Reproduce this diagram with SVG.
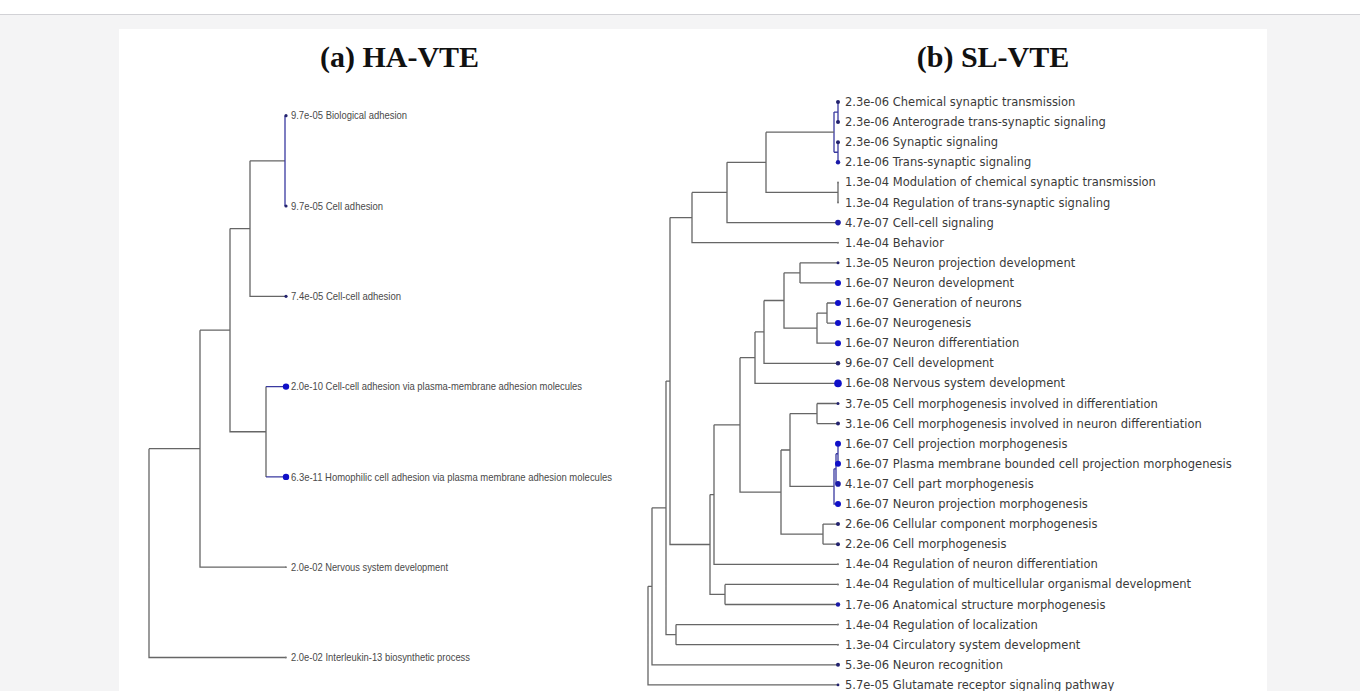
<svg xmlns="http://www.w3.org/2000/svg" width="1360" height="691" viewBox="0 0 1360 691">
<style>
.bg{fill:#f4f4f5}
.panel{fill:#ffffff}
.title{font-family:"Liberation Serif","Times New Roman",serif;font-weight:bold;font-size:30px;fill:#111}
.lt{font-family:"Liberation Sans",Arial,sans-serif;font-size:11px;fill:#4a4a4a}
.rt{font-family:"DejaVu Sans",Verdana,sans-serif;font-size:11.5px;fill:#3a3a3a}
.e{fill:none;stroke:#666;stroke-width:1.3}
.eb{fill:none;stroke:#3a3aa0;stroke-width:1.3}
.d0{fill:#777}
.d1{fill:#22226e}
.d2{fill:#1a1aa8}
.d3{fill:#1010c8}
</style>
<rect class="bg" x="0" y="0" width="1360" height="691"/>
<rect x="0" y="0" width="1360" height="14" fill="#ffffff"/>
<line x1="0" y1="14.5" x2="1360" y2="14.5" stroke="#d2d2d6" stroke-width="1"/>
<rect class="panel" x="119" y="29" width="1148" height="662"/>
<g id="titles">
<text class="title" x="399.5" y="67" text-anchor="middle">(a) HA-VTE</text>
<text class="title" x="993" y="67" text-anchor="middle">(b) SL-VTE</text>
</g>
<g id="connectors">
<!-- left tree -->
<path class="e" d="M250 160.85H285M250 160.85V296.3H286M230 228.6H250M230 228.6V431.75H266M266 386.6V476.9M200 330.2H230M200 330.2V567.2H286M149 448.7H200M149 448.7V657.5H286"/>
<path class="eb" d="M285 115.7V206M266 386.6H286M266 476.9H286"/>
<!-- right tree -->
<path class="eb" d="M838 102V122.1M838 142.2V162.3M834 112.05H838M834 152.25H838M834 112.05V152.25"/>
<path class="e" d="M838 182.4V202.5M766 132.15H834M766 132.15V192.45H838M727 162.3H766M727 162.3V222.6H838M692 192.45H727M692 192.45V242.7H838"/>
<path class="e" d="M800 262.8V282.9M800 262.8H838M800 282.9H838M827 303V323.1M827 303H838M827 323.1H838M817 313.05H827M817 313.05V343.2H838M784 272.85H800M784 272.85V328.1H817M764 300.5H784M764 300.5V363.3H838M755 331.9H764M755 331.9V383.4H838"/>
<path class="e" d="M817 403.5V423.6M817 403.5H838M817 423.6H838M790 413.55H817M790 413.55V486.4H834"/>
<path class="eb" d="M838 443.7V463.8M836 453.75H838M836 453.75V483.9H838M834 468.8H836M834 468.8V504H838"/>
<path class="e" d="M823 524.1V544.2M823 524.1H838M823 544.2H838M781 450H790M781 450V534.15H823M740 357.65H755M740 357.65V492.07H781M714 424.86H740M714 424.86V564.3H838"/>
<path class="e" d="M725 584.4V604.5M725 584.4H838M725 604.5H838M710 494.6H714M710 494.6V594.45H725M670 217.6H692M670 217.6V544.5H710"/>
<path class="e" d="M676 624.6V644.7M676 624.6H838M676 644.7H838M666 381.05H670M666 381.05V634.65H676M652 507.85H666M652 507.85V664.8H838M648 586.3H652M648 586.3V684.9H838"/>
</g>
<g id="left-leaves">
<g id="a-biological-adhesion"><circle class="d1" cx="286" cy="115.7" r="1.6"/><text class="lt" x="291" y="119.4" textLength="116" lengthAdjust="spacingAndGlyphs">9.7e-05 Biological adhesion</text></g>
<g id="a-cell-adhesion"><circle class="d1" cx="286" cy="206" r="1.6"/><text class="lt" x="291" y="209.7" textLength="92" lengthAdjust="spacingAndGlyphs">9.7e-05 Cell adhesion</text></g>
<g id="a-cell-cell-adhesion"><circle class="d1" cx="286" cy="296.3" r="1.6"/><text class="lt" x="291" y="300" textLength="110" lengthAdjust="spacingAndGlyphs">7.4e-05 Cell-cell adhesion</text></g>
<g id="a-cell-cell-adhesion-pm"><circle class="d3" cx="286" cy="386.6" r="3.2"/><text class="lt" x="291" y="390.3" textLength="291" lengthAdjust="spacingAndGlyphs">2.0e-10 Cell-cell adhesion via plasma-membrane adhesion molecules</text></g>
<g id="a-homophilic"><circle class="d3" cx="286" cy="476.9" r="3.2"/><text class="lt" x="291" y="480.6" textLength="321" lengthAdjust="spacingAndGlyphs">6.3e-11 Homophilic cell adhesion via plasma membrane adhesion molecules</text></g>
<g id="a-nervous-system-development"><circle class="d0" cx="286" cy="567.2" r="0.9"/><text class="lt" x="291" y="570.9" textLength="157" lengthAdjust="spacingAndGlyphs">2.0e-02 Nervous system development</text></g>
<g id="a-interleukin-13"><circle class="d0" cx="286" cy="657.5" r="0.9"/><text class="lt" x="291" y="661.2" textLength="179" lengthAdjust="spacingAndGlyphs">2.0e-02 Interleukin-13 biosynthetic process</text></g>
</g>
<g id="right-leaves">
<g id="b0"><circle class="d1" cx="838" cy="102" r="2"/><text class="rt" x="845" y="106">2.3e-06 Chemical synaptic transmission</text></g>
<g id="b1"><circle class="d1" cx="838" cy="122.1" r="2"/><text class="rt" x="845" y="126.1">2.3e-06 Anterograde trans-synaptic signaling</text></g>
<g id="b2"><circle class="d1" cx="838" cy="142.2" r="2"/><text class="rt" x="845" y="146.2">2.3e-06 Synaptic signaling</text></g>
<g id="b3"><circle class="d2" cx="838" cy="162.3" r="2.2"/><text class="rt" x="845" y="166.3">2.1e-06 Trans-synaptic signaling</text></g>
<g id="b4"><circle class="d0" cx="838" cy="182.4" r="1"/><text class="rt" x="845" y="186.4">1.3e-04 Modulation of chemical synaptic transmission</text></g>
<g id="b5"><circle class="d0" cx="838" cy="202.5" r="1"/><text class="rt" x="845" y="206.5">1.3e-04 Regulation of trans-synaptic signaling</text></g>
<g id="b6"><circle class="d2" cx="838" cy="222.6" r="2.8"/><text class="rt" x="845" y="226.6">4.7e-07 Cell-cell signaling</text></g>
<g id="b7"><circle class="d0" cx="838" cy="242.7" r="1"/><text class="rt" x="845" y="246.7">1.4e-04 Behavior</text></g>
<g id="b8"><circle class="d1" cx="838" cy="262.8" r="1.5"/><text class="rt" x="845" y="266.8">1.3e-05 Neuron projection development</text></g>
<g id="b9"><circle class="d3" cx="838" cy="282.9" r="3"/><text class="rt" x="845" y="286.9">1.6e-07 Neuron development</text></g>
<g id="b10"><circle class="d3" cx="838" cy="303" r="3"/><text class="rt" x="845" y="307">1.6e-07 Generation of neurons</text></g>
<g id="b11"><circle class="d3" cx="838" cy="323.1" r="3"/><text class="rt" x="845" y="327.1">1.6e-07 Neurogenesis</text></g>
<g id="b12"><circle class="d3" cx="838" cy="343.2" r="3"/><text class="rt" x="845" y="347.2">1.6e-07 Neuron differentiation</text></g>
<g id="b13"><circle class="d1" cx="838" cy="363.3" r="2.2"/><text class="rt" x="845" y="367.3">9.6e-07 Cell development</text></g>
<g id="b14"><circle class="d3" cx="838" cy="383.4" r="3.8"/><text class="rt" x="845" y="387.4">1.6e-08 Nervous system development</text></g>
<g id="b15"><circle class="d1" cx="838" cy="403.5" r="1.5"/><text class="rt" x="845" y="407.5">3.7e-05 Cell morphogenesis involved in differentiation</text></g>
<g id="b16"><circle class="d1" cx="838" cy="423.6" r="2"/><text class="rt" x="845" y="427.6">3.1e-06 Cell morphogenesis involved in neuron differentiation</text></g>
<g id="b17"><circle class="d3" cx="838" cy="443.7" r="3"/><text class="rt" x="845" y="447.7">1.6e-07 Cell projection morphogenesis</text></g>
<g id="b18"><circle class="d3" cx="838" cy="463.8" r="3"/><text class="rt" x="845" y="467.8">1.6e-07 Plasma membrane bounded cell projection morphogenesis</text></g>
<g id="b19"><circle class="d2" cx="838" cy="483.9" r="2.8"/><text class="rt" x="845" y="487.9">4.1e-07 Cell part morphogenesis</text></g>
<g id="b20"><circle class="d3" cx="838" cy="504" r="3"/><text class="rt" x="845" y="508">1.6e-07 Neuron projection morphogenesis</text></g>
<g id="b21"><circle class="d1" cx="838" cy="524.1" r="2"/><text class="rt" x="845" y="528.1">2.6e-06 Cellular component morphogenesis</text></g>
<g id="b22"><circle class="d1" cx="838" cy="544.2" r="2"/><text class="rt" x="845" y="548.2">2.2e-06 Cell morphogenesis</text></g>
<g id="b23"><circle class="d0" cx="838" cy="564.3" r="1"/><text class="rt" x="845" y="568.3">1.4e-04 Regulation of neuron differentiation</text></g>
<g id="b24"><circle class="d0" cx="838" cy="584.4" r="1"/><text class="rt" x="845" y="588.4">1.4e-04 Regulation of multicellular organismal development</text></g>
<g id="b25"><circle class="d2" cx="838" cy="604.5" r="2.2"/><text class="rt" x="845" y="608.5">1.7e-06 Anatomical structure morphogenesis</text></g>
<g id="b26"><circle class="d0" cx="838" cy="624.6" r="1"/><text class="rt" x="845" y="628.6">1.4e-04 Regulation of localization</text></g>
<g id="b27"><circle class="d0" cx="838" cy="644.7" r="1"/><text class="rt" x="845" y="648.7">1.3e-04 Circulatory system development</text></g>
<g id="b28"><circle class="d1" cx="838" cy="664.8" r="2"/><text class="rt" x="845" y="668.8">5.3e-06 Neuron recognition</text></g>
<g id="b29"><circle class="d1" cx="838" cy="684.9" r="1.4"/><text class="rt" x="845" y="688.9">5.7e-05 Glutamate receptor signaling pathway</text></g>
</g>
</svg>
